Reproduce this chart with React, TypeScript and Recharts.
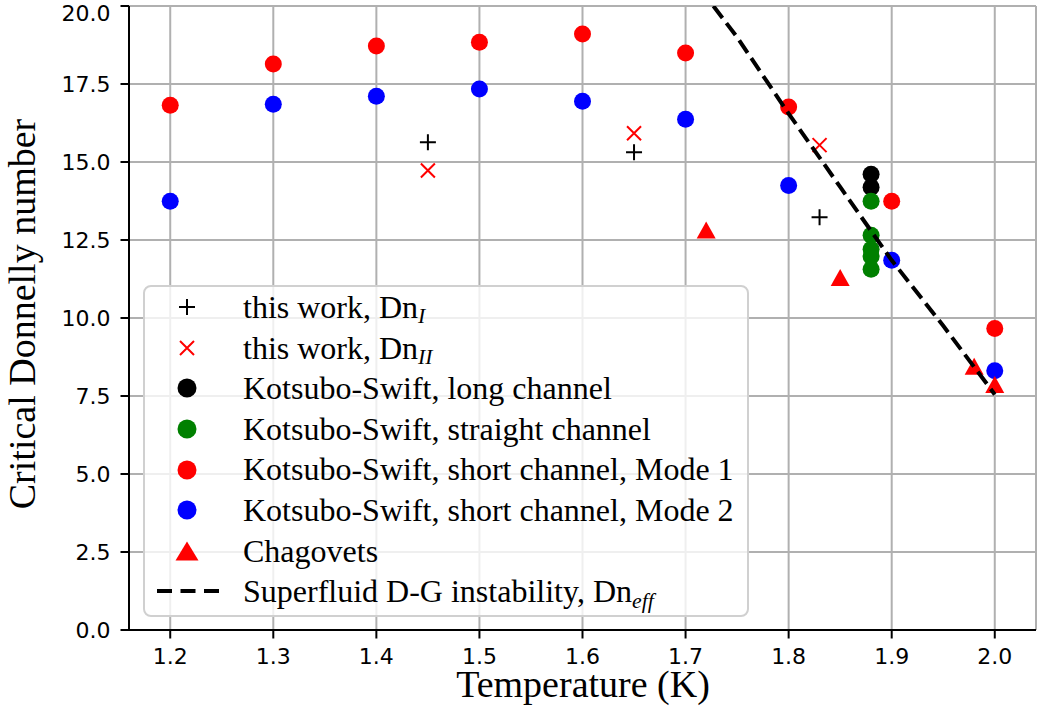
import { ScatterChart, Scatter, XAxis, YAxis, CartesianGrid, Legend } from "recharts";

// temperatures (K) for the Kotsubo-Swift short channel runs
const T_SHORT = [1.2, 1.3, 1.4, 1.5, 1.6, 1.7, 1.8, 1.9, 2.0];
const MODE1 = [16.82, 18.14, 18.72, 18.84, 19.1, 18.49, 16.76, 13.74, 9.66];
const MODE2 = [13.74, 16.85, 17.11, 17.34, 16.95, 16.37, 14.25, 11.85, 8.31];

// this work
const T_WORK = [1.45, 1.65, 1.83];
const DN_I = [15.63, 15.31, 13.23];
const DN_II = [14.73, 15.92, 15.54];

// Kotsubo-Swift long / straight channel
const T_LONG = [1.88, 1.88];
const LONG = [14.61, 14.19];
const T_STRAIGHT = [1.88, 1.88, 1.88, 1.88, 1.88];
const STRAIGHT = [13.74, 12.65, 12.2, 11.97, 11.56];

// Chagovets
const T_CHAG = [1.72, 1.85, 1.98, 2.0];
const CHAG = [12.82, 11.3, 8.45, 7.87];

// superfluid D-G instability curve
const T_DG = [1.727, 1.75, 1.8, 1.85, 1.9, 1.95, 2.0];
const DN_EFF = [20, 19.0, 16.55, 14.2, 11.85, 9.75, 7.55];

const X_TICKS = [1.2, 1.3, 1.4, 1.5, 1.6, 1.7, 1.8, 1.9, 2.0];
const Y_TICKS = [0, 2.5, 5, 7.5, 10, 12.5, 15, 17.5, 20];

const pts = (xs: number[], ys: number[]) => xs.map((x, i) => ({ x, y: ys[i] }));

const SERIF = "'Liberation Serif', 'Times New Roman', serif";
const SANS = "'DejaVu Sans', sans-serif";

const dot = (color: string, r = 8.5) => (p: any) => (
  <circle cx={p.cx} cy={p.cy} r={r} fill={color} />
);
const plus = (p: any) => (
  <path d={`M${p.cx - 8},${p.cy}H${p.cx + 8}M${p.cx},${p.cy - 8}V${p.cy + 8}`} stroke="#000" strokeWidth={2} />
);
const cross = (p: any) => (
  <path
    d={`M${p.cx - 7},${p.cy - 7}L${p.cx + 7},${p.cy + 7}M${p.cx - 7},${p.cy + 7}L${p.cx + 7},${p.cy - 7}`}
    stroke="#ff0000"
    strokeWidth={2}
  />
);
const tri = (w: number, h: number) => (p: any) => (
  <polygon
    points={`${p.cx},${p.cy - h / 2} ${p.cx - w / 2},${p.cy + h / 2} ${p.cx + w / 2},${p.cy + h / 2}`}
    fill="#ff0000"
  />
);

const Sub = ({ children }: { children: string }) => (
  <span style={{ fontStyle: "italic", fontSize: "0.68em", position: "relative", top: "0.25em" }}>{children}</span>
);

const LEGEND_ROWS = [
  { mark: "plus", label: <>this work, Dn<Sub>I</Sub></> },
  { mark: "cross", label: <>this work, Dn<Sub>II</Sub></> },
  { mark: "#000000", label: "Kotsubo-Swift, long channel" },
  { mark: "#008000", label: "Kotsubo-Swift, straight channel" },
  { mark: "#ff0000", label: "Kotsubo-Swift, short channel, Mode 1" },
  { mark: "#0000ff", label: "Kotsubo-Swift, short channel, Mode 2" },
  { mark: "tri", label: "Chagovets" },
  { mark: "dash", label: <>Superfluid D-G instability, Dn<Sub>eff</Sub></> },
];

function LegendMark({ mark }: { mark: string }) {
  const c = { cx: 30, cy: 12 };
  let el;
  if (mark === "plus") el = plus(c);
  else if (mark === "cross") el = cross(c);
  else if (mark === "tri") el = tri(23, 19)(c);
  else if (mark === "dash")
    el = <line x1={0} y1={12} x2={62} y2={12} stroke="#000" strokeWidth={4} strokeDasharray="15 8.5" />;
  else el = dot(mark, 9.5)(c);
  return (
    <svg width={62} height={24} style={{ position: "absolute", left: 12, top: 8.3 }}>
      {el}
    </svg>
  );
}

function LegendBox() {
  return (
    <div
      style={{
        width: 606,
        height: 332,
        boxSizing: "border-box",
        border: "2.5px solid #d0d0d0",
        borderRadius: 8,
        background: "rgba(255,255,255,0.8)",
        paddingTop: 0,
        fontFamily: SERIF,
        fontSize: 32,
        color: "#000",
      }}
    >
      {LEGEND_ROWS.map((r, i) => (
        <div key={i} style={{ position: "relative", height: 40.6, lineHeight: "40.6px", whiteSpace: "nowrap" }}>
          <LegendMark mark={r.mark} />
          <span style={{ position: "absolute", left: 98, top: 0 }}>{r.label}</span>
        </div>
      ))}
    </div>
  );
}

const XTitle = () => (
  <text x={583} y={697} textAnchor="middle" fontFamily={SERIF} fontSize={38} fill="#000">
    Temperature (K)
  </text>
);
const YTitle = () => (
  <text x={35} y={314} transform="rotate(-90 35 314)" textAnchor="middle" fontFamily={SERIF} fontSize={38} fill="#000">
    Critical Donnelly number
  </text>
);

const tickStyle = { fontFamily: SANS, fontSize: 22, fill: "#000" };

export default function App() {
  return (
    <div style={{ position: "absolute", left: 0, top: 0, width: 1038, height: 720, background: "#fff" }}>
      <ScatterChart width={1038} height={720} margin={{ top: 6, right: 2, bottom: 0, left: 0 }}>
        <CartesianGrid stroke="#b0b0b0" strokeWidth={2} />
        <XAxis
          type="number"
          dataKey="x"
          domain={[1.16, 2.04]}
          ticks={X_TICKS}
          tickFormatter={(v: number) => v.toFixed(1)}
          height={90}
          tickSize={8.5}
          tickMargin={10}
          tick={tickStyle}
          axisLine={{ stroke: "#000", strokeWidth: 2 }}
          tickLine={{ stroke: "#000", strokeWidth: 2 }}
          allowDataOverflow
          label={<XTitle />}
        />
        <XAxis
          xAxisId="top"
          orientation="top"
          type="number"
          domain={[1.16, 2.04]}
          height={0}
          tick={false}
          tickLine={false}
          axisLine={{ stroke: "#000", strokeWidth: 2 }}
        />
        <YAxis
          type="number"
          dataKey="y"
          domain={[0, 20]}
          ticks={Y_TICKS}
          tickFormatter={(v: number) => v.toFixed(1)}
          width={129}
          tickSize={8.5}
          tickMargin={10}
          tick={tickStyle}
          axisLine={{ stroke: "#000", strokeWidth: 2 }}
          tickLine={{ stroke: "#000", strokeWidth: 2 }}
          allowDataOverflow
          label={<YTitle />}
        />
        <YAxis
          yAxisId="right"
          orientation="right"
          type="number"
          domain={[0, 20]}
          width={0}
          tick={false}
          tickLine={false}
          axisLine={{ stroke: "#000", strokeWidth: 2 }}
        />
        <Legend
          layout="vertical"
          align="center"
          verticalAlign="middle"
          wrapperStyle={{ left: 143, top: 285, width: 606, height: 332 }}
          content={() => <LegendBox />}
        />
        <Scatter name="Dn_I" data={pts(T_WORK, DN_I)} shape={plus} isAnimationActive={false} />
        <Scatter name="Dn_II" data={pts(T_WORK, DN_II)} shape={cross} isAnimationActive={false} />
        <Scatter name="long" data={pts(T_LONG, LONG)} shape={dot("#000000")} isAnimationActive={false} />
        <Scatter name="straight" data={pts(T_STRAIGHT, STRAIGHT)} shape={dot("#008000")} isAnimationActive={false} />
        <Scatter name="mode1" data={pts(T_SHORT, MODE1)} shape={dot("#ff0000")} isAnimationActive={false} />
        <Scatter name="mode2" data={pts(T_SHORT, MODE2)} shape={dot("#0000ff")} isAnimationActive={false} />
        <Scatter name="chag" data={pts(T_CHAG, CHAG)} shape={tri(19, 17)} isAnimationActive={false} />
        <Scatter
          name="dg"
          data={pts(T_DG, DN_EFF)}
          shape={() => <g />}
          line={{ stroke: "#000", strokeWidth: 4, strokeDasharray: "15 6.5" }}
          lineType="joint"
          isAnimationActive={false}
        />
      </ScatterChart>
    </div>
  );
}
